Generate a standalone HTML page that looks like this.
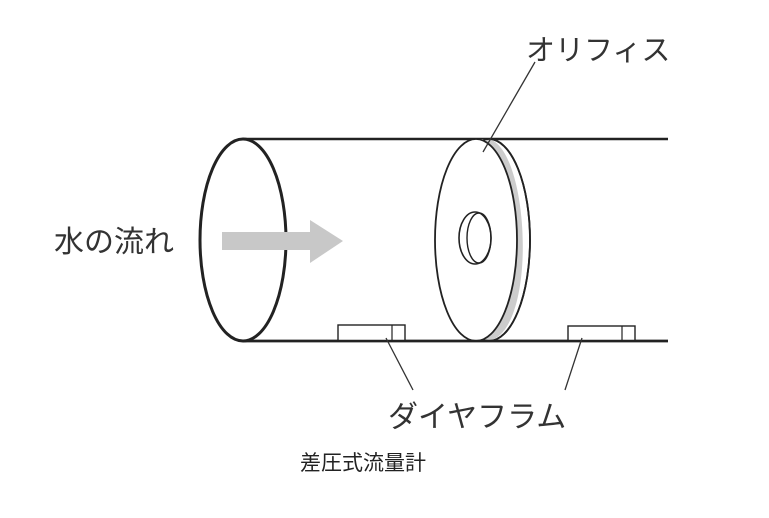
<!DOCTYPE html>
<html><head><meta charset="utf-8"><style>
html,body{margin:0;padding:0;background:#fff;width:769px;height:518px;overflow:hidden}
svg{display:block}
text{font-family:"Liberation Sans","Noto Sans CJK JP",sans-serif;fill:#333}
</style></head><body>
<svg width="769" height="518" viewBox="0 0 769 518" xmlns="http://www.w3.org/2000/svg">
<rect width="769" height="518" fill="#fff"/>
<!-- pipe lines -->
<line x1="243" y1="139" x2="668" y2="139" stroke="#222" stroke-width="2.5"/>
<line x1="243" y1="341" x2="668" y2="341" stroke="#222" stroke-width="2.5"/>
<!-- left ellipse -->
<ellipse cx="243" cy="240" rx="43" ry="101" fill="none" stroke="#222" stroke-width="3"/>
<!-- arrow -->
<polygon points="222,232 310,232 310,220 343,241 310,263 310,250 222,250" fill="#c8c8c8"/>
<!-- orifice back -->
<ellipse cx="489" cy="240" rx="41" ry="101" fill="#fff" stroke="#222" stroke-width="1.8"/>
<path d="M489,139 C530,150 538,330 489,341 L476,341 C530,330 522,150 476,139 Z" fill="#ccc"/>
<ellipse cx="489" cy="240" rx="41" ry="101" fill="none" stroke="#222" stroke-width="1.8"/>
<!-- orifice front -->
<ellipse cx="476" cy="240" rx="41" ry="101" fill="#fff" stroke="#222" stroke-width="1.8"/>
<!-- hole -->
<ellipse cx="475" cy="238" rx="16" ry="26" fill="#fff" stroke="#222" stroke-width="1.6"/>
<ellipse cx="479" cy="238" rx="12" ry="25" fill="none" stroke="#222" stroke-width="1.4"/>
<!-- diaphragms -->
<rect x="338" y="325" width="67" height="16" fill="#fff" stroke="#222" stroke-width="1.4"/>
<line x1="392" y1="325" x2="392" y2="341" stroke="#222" stroke-width="1.2"/>
<rect x="568" y="326" width="67" height="15" fill="#fff" stroke="#222" stroke-width="1.4"/>
<line x1="622" y1="326" x2="622" y2="341" stroke="#222" stroke-width="1.2"/>
<line x1="243" y1="341" x2="668" y2="341" stroke="#222" stroke-width="2.5"/>
<!-- leaders -->
<line x1="483" y1="152" x2="535" y2="62" stroke="#333" stroke-width="1.3"/>
<line x1="386" y1="338" x2="413" y2="390" stroke="#333" stroke-width="1.3"/>
<line x1="582" y1="338" x2="565" y2="390" stroke="#333" stroke-width="1.3"/>
<!-- labels -->
<text x="526" y="60" font-size="29">オリフィス</text>
<text x="54" y="252" font-size="30">水の流れ</text>
<text x="388" y="427" font-size="30">ダイヤフラム</text>
<text x="300" y="470" font-size="21" style="fill:#222">差圧式流量計</text>
</svg>
</body></html>
